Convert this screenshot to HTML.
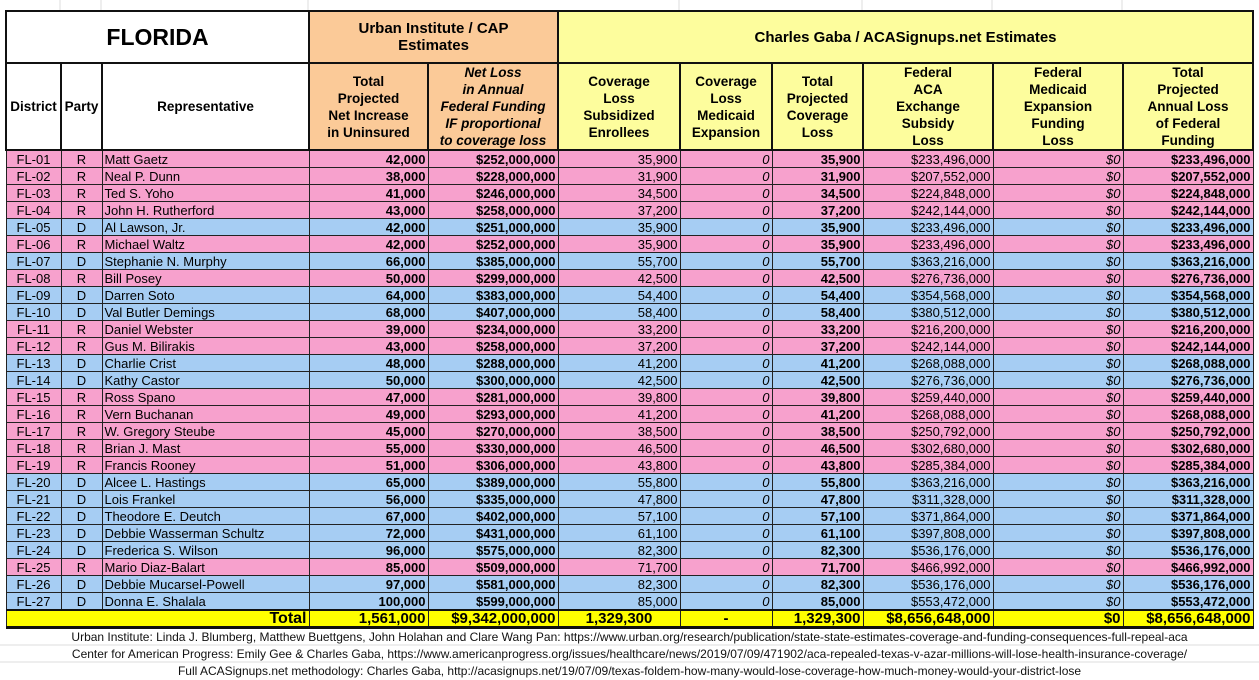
<!DOCTYPE html>
<html><head><meta charset="utf-8"><style>
body{margin:0;width:1259px;height:680px;background:#fff;overflow:hidden;font-family:"Liberation Sans",Arial,sans-serif;position:relative}
.grid{position:absolute;left:0;top:0;width:1259px;height:680px}
table{position:absolute;left:5px;top:10px;border-collapse:collapse;table-layout:fixed}
td{border:1px solid #222;padding:0 2px;font-size:13px;height:16px;line-height:15px;white-space:nowrap;overflow:hidden}
.p td{background:#f7a1cd}.b td{background:#a6cdf3}
.c{text-align:center}.r{text-align:right}.bd{font-weight:bold}.i{font-style:italic}
.h td{font-weight:bold;text-align:center;white-space:nowrap;font-size:13.5px;line-height:17px;border:2px solid #111}
.o{background:#fbca98}.y{background:#fdfd9d}
.t td{background:#ffff00;font-weight:bold;font-size:15px;border-top:2px solid #111;border-bottom:3px solid #111;height:15px;line-height:15px}
.f{position:absolute;left:0;width:1259px;text-align:center;font-size:12px;color:#111}
</style></head><body>
<svg class="grid"><g stroke="#ddd"><line x1="60" y1="0" x2="60" y2="10"/><line x1="101" y1="0" x2="101" y2="10"/><line x1="308" y1="0" x2="308" y2="10"/><line x1="679" y1="0" x2="679" y2="10"/><line x1="862" y1="0" x2="862" y2="10"/><line x1="992" y1="0" x2="992" y2="10"/><line x1="1122" y1="0" x2="1122" y2="10"/><line x1="0" y1="645" x2="1259" y2="645"/><line x1="0" y1="662" x2="1259" y2="662"/></g></svg>
<table>
<colgroup><col style="width:55px"><col style="width:41px"><col style="width:207px"><col style="width:119px"><col style="width:130px"><col style="width:122px"><col style="width:92px"><col style="width:91px"><col style="width:130px"><col style="width:130px"><col style="width:130px"></colgroup>
<tr class="h"><td colspan="3" style="height:50px;font-size:23px;background:#fff">FLORIDA</td><td colspan="2" class="o" style="font-size:15px">Urban Institute / CAP<br>Estimates</td><td colspan="6" class="y" style="font-size:15px">Charles Gaba / ACASignups.net Estimates</td></tr>
<tr class="h"><td style="height:83px;background:#fff;padding:0">District</td><td style="background:#fff;padding:0">Party</td><td style="background:#fff">Representative</td><td class="o">Total<br>Projected<br>Net Increase<br>in Uninsured</td><td class="o i">Net Loss<br>in Annual<br>Federal Funding<br>IF proportional<br>to coverage loss</td><td class="y">Coverage<br>Loss<br>Subsidized<br>Enrollees</td><td class="y">Coverage<br>Loss<br>Medicaid<br>Expansion</td><td class="y">Total<br>Projected<br>Coverage<br>Loss</td><td class="y">Federal<br>ACA<br>Exchange<br>Subsidy<br>Loss</td><td class="y">Federal<br>Medicaid<br>Expansion<br>Funding<br>Loss</td><td class="y">Total<br>Projected<br>Annual Loss<br>of Federal<br>Funding</td></tr>
<tbody id="d"></tbody>
<tr class="t"><td colspan="3" class="r" style="font-size:16px">Total</td><td class="r">1,561,000</td><td class="r">$9,342,000,000</td><td class="c">1,329,300</td><td class="c">-</td><td class="r">1,329,300</td><td class="r">$8,656,648,000</td><td class="r">$0</td><td class="r">$8,656,648,000</td></tr>
</table>
<div class="f" style="top:630px">Urban Institute: Linda J. Blumberg, Matthew Buettgens, John Holahan and Clare Wang Pan: https://www.urban.org/research/publication/state-state-estimates-coverage-and-funding-consequences-full-repeal-aca</div>
<div class="f" style="top:647px">Center for American Progress: Emily Gee &amp; Charles Gaba, https://www.americanprogress.org/issues/healthcare/news/2019/07/09/471902/aca-repealed-texas-v-azar-millions-will-lose-health-insurance-coverage/</div>
<div class="f" style="top:664px">Full ACASignups.net methodology: Charles Gaba, http://acasignups.net/19/07/09/texas-foldem-how-many-would-lose-coverage-how-much-money-would-your-district-lose</div>
<script>
var rows=[
["R","Matt Gaetz","42,000","$252,000,000","35,900","$233,496,000"],
["R","Neal P. Dunn","38,000","$228,000,000","31,900","$207,552,000"],
["R","Ted S. Yoho","41,000","$246,000,000","34,500","$224,848,000"],
["R","John H. Rutherford","43,000","$258,000,000","37,200","$242,144,000"],
["D","Al Lawson, Jr.","42,000","$251,000,000","35,900","$233,496,000"],
["R","Michael Waltz","42,000","$252,000,000","35,900","$233,496,000"],
["D","Stephanie N. Murphy","66,000","$385,000,000","55,700","$363,216,000"],
["R","Bill Posey","50,000","$299,000,000","42,500","$276,736,000"],
["D","Darren Soto","64,000","$383,000,000","54,400","$354,568,000"],
["D","Val Butler Demings","68,000","$407,000,000","58,400","$380,512,000"],
["R","Daniel Webster","39,000","$234,000,000","33,200","$216,200,000"],
["R","Gus M. Bilirakis","43,000","$258,000,000","37,200","$242,144,000"],
["D","Charlie Crist","48,000","$288,000,000","41,200","$268,088,000"],
["D","Kathy Castor","50,000","$300,000,000","42,500","$276,736,000"],
["R","Ross Spano","47,000","$281,000,000","39,800","$259,440,000"],
["R","Vern Buchanan","49,000","$293,000,000","41,200","$268,088,000"],
["R","W. Gregory Steube","45,000","$270,000,000","38,500","$250,792,000"],
["R","Brian J. Mast","55,000","$330,000,000","46,500","$302,680,000"],
["R","Francis Rooney","51,000","$306,000,000","43,800","$285,384,000"],
["D","Alcee L. Hastings","65,000","$389,000,000","55,800","$363,216,000"],
["D","Lois Frankel","56,000","$335,000,000","47,800","$311,328,000"],
["D","Theodore E. Deutch","67,000","$402,000,000","57,100","$371,864,000"],
["D","Debbie Wasserman Schultz","72,000","$431,000,000","61,100","$397,808,000"],
["D","Frederica S. Wilson","96,000","$575,000,000","82,300","$536,176,000"],
["R","Mario Diaz-Balart","85,000","$509,000,000","71,700","$466,992,000"],
["D","Debbie Mucarsel-Powell","97,000","$581,000,000","82,300","$536,176,000"],
["D","Donna E. Shalala","100,000","$599,000,000","85,000","$553,472,000"]];
var h="";rows.forEach(function(r,i){var n=("0"+(i+1)).slice(-2);
h+='<tr class="'+(r[0]=="R"?"p":"b")+'"><td class="c">FL-'+n+'</td><td class="c">'+r[0]+'</td><td>'+r[1]+'</td><td class="r bd">'+r[2]+'</td><td class="r bd">'+r[3]+'</td><td class="r">'+r[4]+'</td><td class="r i">0</td><td class="r bd">'+r[4]+'</td><td class="r">'+r[5]+'</td><td class="r i">$0</td><td class="r bd">'+r[5]+'</td></tr>';});
document.getElementById("d").innerHTML=h;
</script>
</body></html>
